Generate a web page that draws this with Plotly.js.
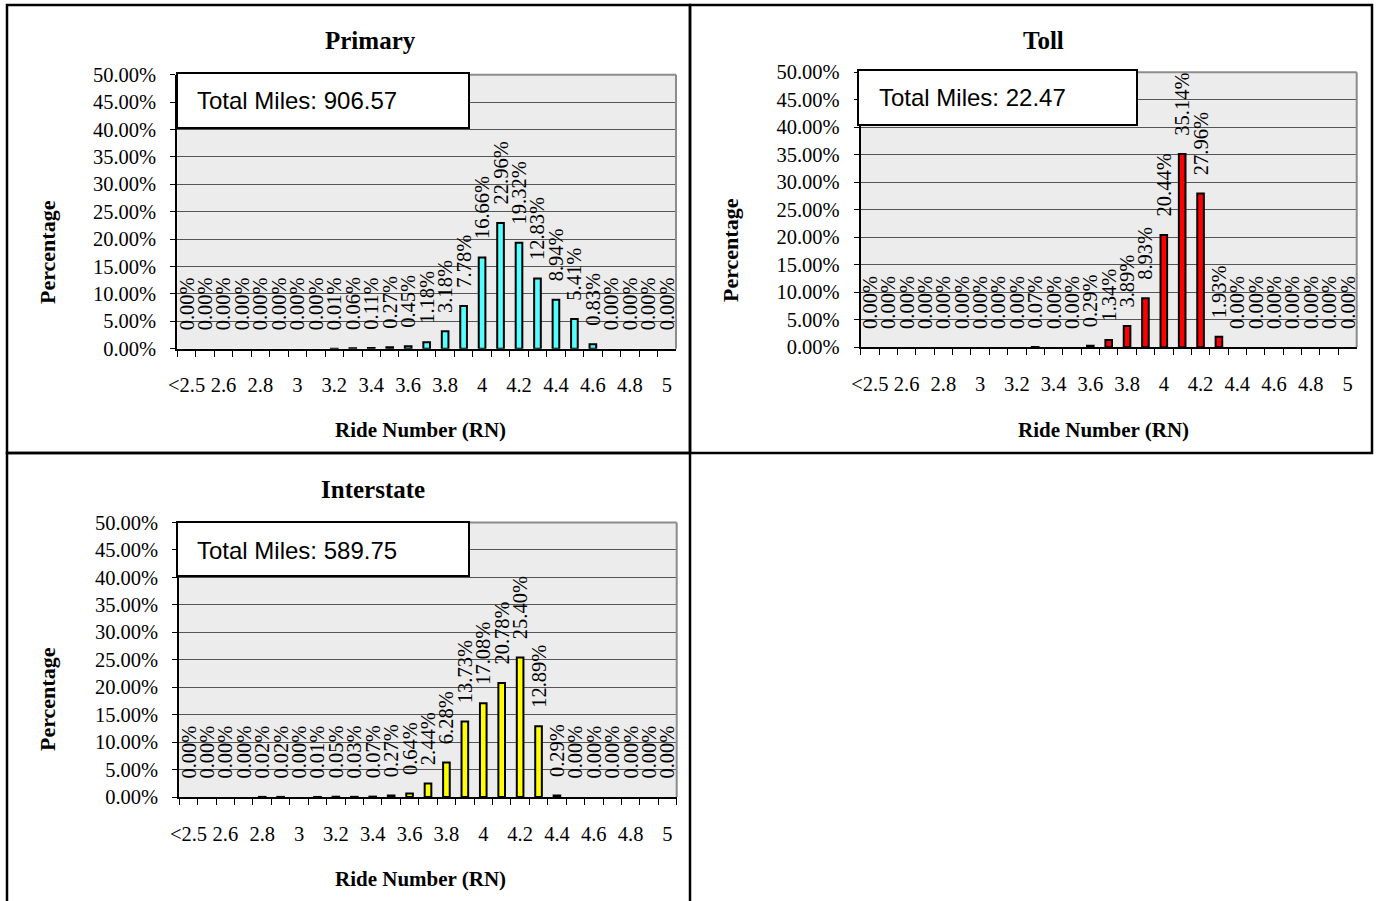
<!DOCTYPE html>
<html>
<head>
<meta charset="utf-8">
<script src="https://cdn.plot.ly/plotly-3.0.1.min.js"></script>
<style>
  html, body { margin: 0; padding: 0; background: #ffffff; }
  #chart { width: 1377px; height: 901px; }
</style>
</head>
<body>
<div id="chart"></div>
<script>
// ---------- DATA ----------
const categories = ['<2.5','2.5','2.6','2.7','2.8','2.9','3','3.1','3.2','3.3','3.4','3.5','3.6','3.7','3.8','3.9','4','4.1','4.2','4.3','4.4','4.5','4.6','4.7','4.8','4.9','5'];
const tickLabels = ['<2.5','','2.6','','2.8','','3','','3.2','','3.4','','3.6','','3.8','','4','','4.2','','4.4','','4.6','','4.8','','5'];

const primaryValues    = [0,0,0,0,0,0,0,0,0.01,0.06,0.11,0.27,0.45,1.18,3.18,7.78,16.66,22.96,19.32,12.83,8.94,5.41,0.83,0,0,0,0];
const tollValues       = [0,0,0,0,0,0,0,0,0,0.07,0,0,0.29,1.34,3.89,8.93,20.44,35.14,27.96,1.93,0,0,0,0,0,0,0];
const interstateValues = [0,0,0,0,0.02,0.02,0,0.01,0.05,0.03,0.07,0.27,0.64,2.44,6.28,13.73,17.08,20.78,25.40,12.89,0.29,0,0,0,0,0,0];

const chartTitles = ['Primary', 'Toll', 'Interstate'];
const totalMiles  = ['906.57', '22.47', '589.75'];
const xTitle = 'Ride Number (RN)';
const yTitle = 'Percentage';

// ---------- LAYOUT GEOMETRY (pixels) ----------
const W = 1377, H = 901;
const px = v => v / W;
const py = v => 1 - v / H;

const panels = [
  { key: '',  values: primaryValues,    color: '#55ffff',
    plot: {x0: 177.3, x1: 676.0, y0: 74.7, y1: 348.7},
    frame: {x0: 7, x1: 690, y0: 5, y1: 453},
    title: {x: 370, y: 41}, ytitle: {x: 47, y: 252}, xtitle: {x: 420, y: 430},
    box: {x0: 177, x1: 469, y0: 73, y1: 128}, boxText: {x: 195, y: 101} },
  { key: '2', values: tollValues,       color: '#ff0000',
    plot: {x0: 860.7, x1: 1356.7, y0: 72.3, y1: 347.3},
    frame: {x0: 690, x1: 1372, y0: 5, y1: 453},
    title: {x: 1043, y: 41}, ytitle: {x: 731, y: 250}, xtitle: {x: 1103, y: 430},
    box: {x0: 858, x1: 1137, y0: 70, y1: 125}, boxText: {x: 877, y: 97} },
  { key: '3', values: interstateValues, color: '#ffff00',
    plot: {x0: 179.3, x1: 676.7, y0: 522.5, y1: 797.0},
    frame: {x0: 7, x1: 690, y0: 453, y1: 905},
    title: {x: 373, y: 489}, ytitle: {x: 47, y: 699}, xtitle: {x: 420, y: 879},
    box: {x0: 177, x1: 469, y0: 522, y1: 576}, boxText: {x: 195, y: 550} }
];

const serif = 'Liberation Serif, Times New Roman, serif';
const sans  = 'Liberation Sans, Arial, sans-serif';

const traces = [];
const layout = {
  width: W, height: H,
  margin: {l: 0, r: 0, t: 0, b: 0},
  paper_bgcolor: '#ffffff',
  plot_bgcolor: '#ececec',
  showlegend: false,
  bargap: 0.64,
  font: {family: serif, size: 20, color: '#000000'},
  shapes: [],
  annotations: []
};

panels.forEach((p, i) => {
  traces.push({
    type: 'bar',
    x: categories,
    y: p.values,
    xaxis: 'x' + p.key,
    yaxis: 'y' + p.key,
    marker: {color: p.color, line: {color: '#000000', width: p.values.map(v => v > 0 ? 2 : 0)}},
    texttemplate: '\u00a0\u00a0\u00a0%{y:.2f}%',
    textposition: 'outside',
    textangle: -90,
    constraintext: 'none',
    cliponaxis: false,
    textfont: {family: serif, size: 20.5, color: '#000000'},
    hoverinfo: 'x+y'
  });

  layout['xaxis' + p.key] = {
    domain: [px(p.plot.x0), px(p.plot.x1)],
    anchor: 'y' + p.key,
    type: 'category',
    categoryorder: 'array',
    categoryarray: categories,
    tickmode: 'array',
    tickvals: categories,
    ticktext: tickLabels,
    tickangle: 0,
    tickson: 'boundaries',
    ticks: 'outside',
    ticklen: 6,
    tickwidth: 1,
    tickcolor: '#000000',
    ticklabelstandoff: 17,
    showline: true,
    linecolor: '#000000',
    linewidth: 2,
    showgrid: false,
    zeroline: false,
    tickfont: {family: serif, size: 20.5, color: '#000000'},
    fixedrange: true
  };
  layout['yaxis' + p.key] = {
    domain: [py(p.plot.y1), py(p.plot.y0)],
    anchor: 'x' + p.key,
    range: [0, 50],
    tickmode: 'linear',
    tick0: 0,
    dtick: 5,
    tickformat: '.2f',
    ticksuffix: '%',
    ticks: 'outside',
    ticklen: 5,
    tickwidth: 1,
    tickcolor: '#000000',
    ticklabelstandoff: 10,
    showline: true,
    linecolor: '#000000',
    linewidth: 2,
    showgrid: true,
    gridcolor: '#555555',
    gridwidth: 1,
    zeroline: false,
    tickfont: {family: serif, size: 20.5, color: '#000000'},
    fixedrange: true
  };

  // plot area top/right gray border
  layout.shapes.push({type: 'line', xref: 'paper', yref: 'paper', layer: 'above',
    x0: px(p.plot.x0), x1: px(p.plot.x1), y0: py(p.plot.y0), y1: py(p.plot.y0),
    line: {color: '#8c8c8c', width: 2}});
  layout.shapes.push({type: 'line', xref: 'paper', yref: 'paper', layer: 'above',
    x0: px(p.plot.x1), x1: px(p.plot.x1), y0: py(p.plot.y0), y1: py(p.plot.y1),
    line: {color: '#8c8c8c', width: 2}});
  // panel frame
  layout.shapes.push({type: 'rect', xref: 'paper', yref: 'paper', layer: 'above',
    x0: px(p.frame.x0), x1: px(p.frame.x1), y0: py(p.frame.y1), y1: py(p.frame.y0),
    line: {color: '#000000', width: 2.5}, fillcolor: 'rgba(0,0,0,0)'});
  // total miles box
  layout.shapes.push({type: 'rect', xref: 'paper', yref: 'paper', layer: 'above',
    x0: px(p.box.x0), x1: px(p.box.x1), y0: py(p.box.y1), y1: py(p.box.y0),
    line: {color: '#000000', width: 2}, fillcolor: '#ffffff'});

  layout.annotations.push({xref: 'paper', yref: 'paper', showarrow: false,
    x: px(p.boxText.x), y: py(p.boxText.y), xanchor: 'left', yanchor: 'middle',
    text: 'Total Miles: ' + totalMiles[i],
    font: {family: sans, size: 24, color: '#000000'}});
  layout.annotations.push({xref: 'paper', yref: 'paper', showarrow: false,
    x: px(p.title.x), y: py(p.title.y), xanchor: 'center', yanchor: 'middle',
    text: '<b>' + chartTitles[i] + '</b>',
    font: {family: serif, size: 25, color: '#000000'}});
  layout.annotations.push({xref: 'paper', yref: 'paper', showarrow: false,
    x: px(p.ytitle.x), y: py(p.ytitle.y), xanchor: 'center', yanchor: 'middle',
    textangle: -90,
    text: '<b>' + yTitle + '</b>',
    font: {family: serif, size: 22, color: '#000000'}});
  layout.annotations.push({xref: 'paper', yref: 'paper', showarrow: false,
    x: px(p.xtitle.x), y: py(p.xtitle.y), xanchor: 'center', yanchor: 'middle',
    text: '<b>' + xTitle + '</b>',
    font: {family: serif, size: 21, color: '#000000'}});
});

Plotly.newPlot('chart', traces, layout, {staticPlot: true, displayModeBar: false});
</script>
</body>
</html>
